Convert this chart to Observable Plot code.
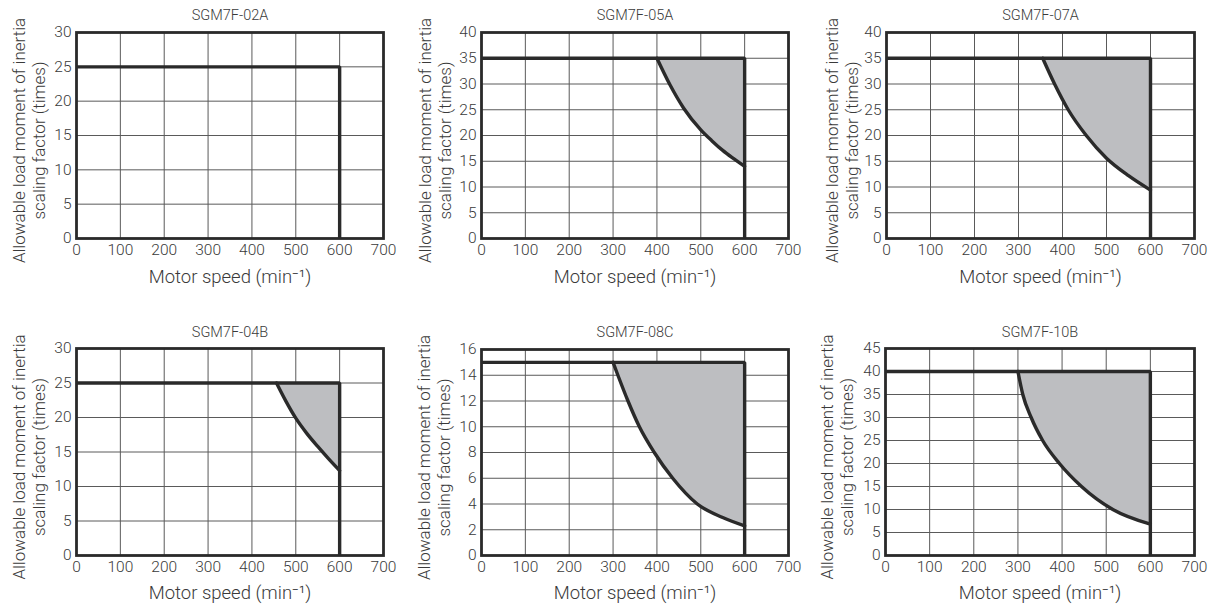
<!DOCTYPE html>
<html>
<head>
<meta charset="utf-8">
<script src="https://cdn.jsdelivr.net/npm/d3@7"></script>
<script src="https://cdn.jsdelivr.net/npm/@observablehq/plot@0.6"></script>
<style>
  html, body { margin: 0; padding: 0; background: #fff; }
  #chart { position: relative; width: 1218px; height: 605px; overflow: hidden; }
  #chart > div { position: absolute; }
  svg { overflow: visible; }
</style>
</head>
<body>
<div id="chart"></div>
<script>
// ---------- data ----------
const titles = ["SGM7F-02A", "SGM7F-05A", "SGM7F-07A", "SGM7F-04B", "SGM7F-08C", "SGM7F-10B"];
const xTicks = [0, 100, 200, 300, 400, 500, 600, 700];
const yTicks02A = [0, 5, 10, 15, 20, 25, 30];
const yTicks05A = [0, 5, 10, 15, 20, 25, 30, 35, 40];
const yTicks07A = [0, 5, 10, 15, 20, 25, 30, 35, 40];
const yTicks04B = [0, 5, 10, 15, 20, 25, 30];
const yTicks08C = [0, 2, 4, 6, 8, 10, 12, 14, 16];
const yTicks10B = [0, 5, 10, 15, 20, 25, 30, 35, 40, 45];
const ratedFactor = [25, 35, 35, 25, 15, 40];
const maxSpeed = 600;

// curved boundary (motor speed, scaling factor)
const speed02A = [];            const factor02A = [];
const speed05A = [400, 430, 461, 500, 525, 550, 575, 600];
const factor05A = [35, 29.8, 25.3, 21.1, 19, 17.1, 15.5, 14];
const speed07A = [355, 382, 413, 454, 500, 550, 600];
const factor07A = [35, 30, 25, 20, 15.6, 12.2, 9.4];
const speed04B = [456, 478, 500, 525, 550, 575, 600];
const factor04B = [25, 22.3, 19.9, 17.7, 15.8, 14, 12.3];
const speed08C = [300, 311, 334, 360, 394, 436, 492, 550, 600];
const factor08C = [15, 14, 12, 10, 8, 6, 4, 2.95, 2.3];
const speed10B = [300, 311, 330, 356, 394, 444, 515, 600];
const factor10B = [40, 35, 30, 25, 20, 15, 10, 6.8];

const yTickSets = [yTicks02A, yTicks05A, yTicks07A, yTicks04B, yTicks08C, yTicks10B];
const speeds = [speed02A, speed05A, speed07A, speed04B, speed08C, speed10B];
const factors = [factor02A, factor05A, factor07A, factor04B, factor08C, factor10B];

const yLabel = "Allowable load moment of inertia\nscaling factor (times)";
const xLabel = "Motor speed (min\u207B\u00B9)";

// ---------- layout ----------
const layout = [
  {left: 0,   top: 0,   width: 400, height: 290, mL: 76, mR: 17, mT: 32, mB: 52, labDx: -48, titleDy: -17, xlabDy: 39},
  {left: 400, top: 0,   width: 408, height: 290, mL: 81, mR: 20, mT: 32, mB: 52, labDx: -47, titleDy: -17, xlabDy: 39},
  {left: 808, top: 0,   width: 410, height: 290, mL: 78, mR: 24, mT: 32, mB: 52, labDx: -45, titleDy: -17, xlabDy: 39},
  {left: 0,   top: 300, width: 400, height: 305, mL: 76, mR: 17, mT: 48, mB: 50, labDx: -48, titleDy: -16, xlabDy: 38},
  {left: 400, top: 300, width: 408, height: 305, mL: 81, mR: 20, mT: 49, mB: 50, labDx: -48, titleDy: -17, xlabDy: 38},
  {left: 808, top: 300, width: 410, height: 305, mL: 77, mR: 24, mT: 48, mB: 50, labDx: -49, titleDy: -16, xlabDy: 38}
];

const FONT = "Roboto, 'Liberation Sans', Arial, sans-serif";
const INK = "#2a2a2a";
const TXT = "#3a3a3a";
const chart = document.getElementById("chart");

titles.forEach((title, i) => {
  const L = layout[i];
  const yT = yTickSets[i];
  const yMax = yT[yT.length - 1];
  const rated = ratedFactor[i];
  const curve = speeds[i].map((s, k) => ({speed: s, factor: factors[i][k]}));
  const envelope = [
    {speed: 0, factor: rated},
    {speed: maxSpeed, factor: rated},
    {speed: maxSpeed, factor: 0}
  ];

  const marks = [
    Plot.gridX(xTicks, {stroke: "#5a5a5a", strokeOpacity: 1, strokeWidth: 1}),
    Plot.gridY(yT, {stroke: "#5a5a5a", strokeOpacity: 1, strokeWidth: 1})
  ];
  if (curve.length) {
    marks.push(Plot.areaY(curve, {x: "speed", y1: "factor", y2: rated, fill: "#bdbec1", curve: "monotone-x"}));
  }
  marks.push(Plot.line(envelope, {x: "speed", y: "factor", stroke: INK, strokeWidth: 3.4, strokeLinejoin: "miter", strokeLinecap: "butt"}));
  if (curve.length) {
    marks.push(Plot.line(curve, {x: "speed", y: "factor", stroke: INK, strokeWidth: 3.4, curve: "monotone-x"}));
  }
  marks.push(
    Plot.frame({stroke: INK, strokeWidth: 2.8}),
    Plot.axisX(xTicks, {tickSize: 0, tickPadding: 5, fontSize: 15.5, fontWeight: 300, fill: TXT, label: null}),
    Plot.axisY(yT, {tickSize: 0, tickPadding: 5, fontSize: 15.5, fontWeight: 300, fill: TXT, label: null}),
    Plot.text([title], {frameAnchor: "top", dy: L.titleDy, text: d => d, fontSize: 14.5, fontWeight: 300, fill: TXT, lineAnchor: "middle"}),
    Plot.text([xLabel], {frameAnchor: "bottom", dy: L.xlabDy, text: d => d, fontSize: 18.5, fontWeight: 300, fill: TXT, lineAnchor: "middle"}),
    Plot.text([yLabel], {frameAnchor: "left", dx: L.labDx, dy: 5, text: d => d, rotate: -90, fontSize: 17, fontWeight: 300, lineHeight: 1.2, fill: TXT, lineAnchor: "middle", textAnchor: "middle"})
  );

  const svg = Plot.plot({
    width: L.width,
    height: L.height,
    marginLeft: L.mL,
    marginRight: L.mR,
    marginTop: L.mT,
    marginBottom: L.mB,
    x: {domain: [0, 700], label: null},
    y: {domain: [0, yMax], label: null},
    style: {fontFamily: FONT, background: "transparent", color: TXT, overflow: "visible"},
    marks
  });
  const holder = document.createElement("div");
  holder.style.left = L.left + "px";
  holder.style.top = L.top + "px";
  holder.appendChild(svg);
  chart.appendChild(holder);
});
</script>
</body>
</html>
